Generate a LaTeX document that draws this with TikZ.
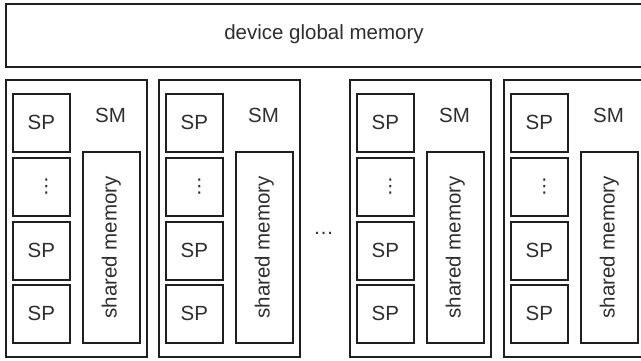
\documentclass[tikz,border=0pt]{standalone}
\usepackage{fontspec}
\setmainfont{Liberation Sans}
\newfontfamily\symfont{DejaVu Sans}
\begin{document}
\begin{tikzpicture}[x=1pt,y=-1pt,
  box/.style={draw=black!88, line width=1.5pt, inner sep=0pt, anchor=north west},
  lbl/.style={text=black!82, font=\fontsize{20.5}{24}\selectfont, inner sep=0pt}]
\clip (0,0) rectangle (641,360);
\useasboundingbox (0,0) rectangle (641,360);
\node[box, minimum width=645pt, minimum height=63pt] (gm) at (5,3) {};
\node[lbl] (gmlabel) at (324,34.5) {device global memory};
\foreach \L/\i in {5/1,158/2,349/3,503/4} {
  \node[box, minimum width=141pt, minimum height=277pt] (sm\i) at (\L,79) {};
  \node[lbl] (smlabel\i) at (\L+105.5,115) {SM};
  \node[box, minimum width=57pt, minimum height=58pt] (spa\i) at (\L+7,93) {};
  \node[box, minimum width=57pt, minimum height=58pt] (spb\i) at (\L+7,157) {};
  \node[box, minimum width=57pt, minimum height=58pt] (spc\i) at (\L+7,221) {};
  \node[box, minimum width=57pt, minimum height=58pt] (spd\i) at (\L+7,284) {};
  \node[lbl] (spla\i) at (spa\i.center) {SP};
  \node[lbl, font=\symfont\fontsize{19}{19}\selectfont, xshift=5pt] (splb\i) at (spb\i.center) {⋮};
  \node[lbl] (splc\i) at (spc\i.center) {SP};
  \node[lbl] (spld\i) at (spd\i.center) {SP};
  \node[box, minimum width=57pt, minimum height=191pt] (sh\i) at (\L+77,151) {};
  \node[lbl, rotate=90] (shl\i) at (sh\i.center) {shared memory};
}
\node[lbl, anchor=base] (dots) at (323.5,234) {…};
\end{tikzpicture}
\end{document}
